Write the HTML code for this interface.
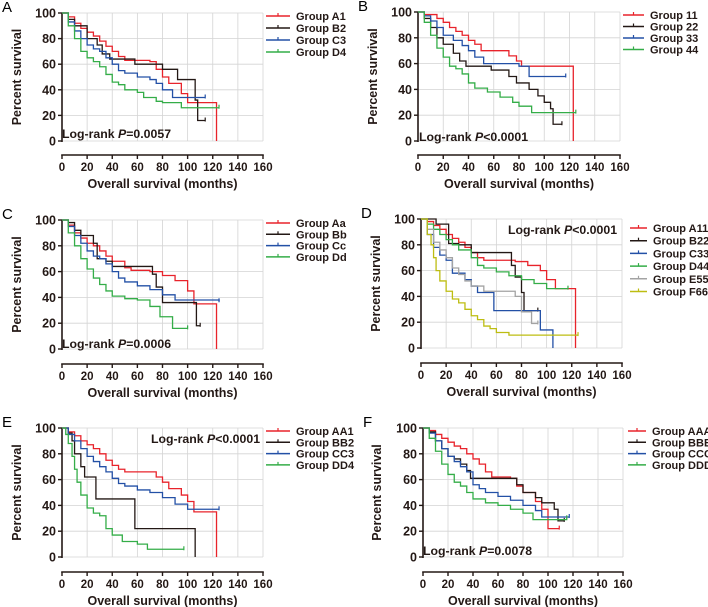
<!DOCTYPE html>
<html><head><meta charset="utf-8"><style>
html,body{margin:0;padding:0;background:#fff;}
svg{display:block;font-family:"Liberation Sans",Arial,sans-serif;}
</style></head><body>
<svg id="fig" width="708" height="607" viewBox="0 0 708 607"></svg>
<script>
// ---- data: x ticks / y ticks ----
const xTicks = [0,20,40,60,80,100,120,140,160];
const yTicks = [0,20,40,60,80,100];
// Panel A
const aName = ["Group A1","Group B2","Group C3","Group D4"];
const a1T=[0,5,10,15,20,25,30,35,40,45,50,70,75,80,85,95,100,123,123];
const a1S=[100,97,92,88,85,82,78,74,70,66,63,62,56,50,45,37,30,30,0];
const a2T=[0,5,10,20,28,32,38,58,80,92,106,108,114];
const a2S=[100,95,90,80,75,68,64,60,56,48,32,16,16];
const a3T=[0,5,10,15,20,25,30,35,40,45,50,60,70,75,80,88,114];
const a3S=[100,93,86,80,75,72,70,65,60,55,53,50,48,45,40,34,34];
const a4T=[0,5,10,15,20,25,30,35,40,45,50,60,65,75,80,95,125];
const a4S=[100,90,80,70,65,62,58,52,46,44,40,38,34,31,30,26,26];
// Panel B
const bName = ["Group 11","Group 22","Group 33","Group 44"];
const b1T=[0,5,15,20,25,30,35,40,45,50,68,72,78,82,123,123];
const b1S=[100,98,95,92,88,85,82,78,75,70,70,66,62,58,58,0];
const b2T=[0,5,10,15,20,28,33,38,58,72,78,88,95,100,105,107,114];
const b2S=[100,95,88,80,75,68,62,58,55,50,45,40,35,30,25,13,13];
const b3T=[0,5,10,15,20,28,35,40,45,52,80,88,117];
const b3S=[100,97,93,88,82,78,74,70,65,60,58,50,50];
const b4T=[0,5,10,15,20,25,30,35,40,45,55,65,75,80,90,125];
const b4S=[100,92,82,72,65,58,56,52,45,41,38,34,30,27,22,22];
// Panel C
const cName = ["Group Aa","Group Bb","Group Cc","Group Dd"];
const c1T=[0,5,10,15,20,25,30,35,40,50,55,70,80,90,100,105,123,123];
const c1S=[100,96,90,86,82,80,76,72,68,63,61,60,57,53,45,35,29,0];
const c2T=[0,5,10,15,25,28,35,40,70,72,75,80,105,107,110];
const c2S=[100,98,92,88,82,70,68,64,64,58,48,36,36,18,18];
const c3T=[0,5,10,15,20,25,30,35,40,45,50,60,70,80,90,125];
const c3S=[100,95,88,82,76,72,70,66,60,55,52,49,46,42,38,37];
const c4T=[0,5,10,15,20,25,30,35,40,50,60,70,78,88,100];
const c4S=[100,90,80,70,62,55,50,45,41,39,38,33,25,16,16];
// Panel D
const dName = ["Group A11","Group B22","Group C33","Group D44","Group E55","Group F66"];
const d1T=[0,5,10,15,20,25,30,35,40,45,50,75,85,95,100,107,123,123];
const d1S=[100,98,95,92,88,85,82,78,74,70,68,67,64,60,53,46,38,0];
const d2T=[0,12,22,30,40,70,72,75,80,82,93];
const d2S=[100,96,81,80,74,74,64,55,43,29,29];
const d3T=[0,5,10,15,20,25,35,40,45,58,95,105];
const d3S=[100,88,78,72,68,58,53,48,43,29,14,0];
const d4T=[0,5,10,15,20,25,30,40,45,50,60,70,80,90,100,117];
const d4S=[100,96,92,88,84,80,76,70,64,62,59,56,53,50,46,46];
const d5T=[0,5,10,15,20,25,30,35,40,50,60,75,80,88,93];
const d5S=[100,92,82,76,70,62,57,52,48,44,44,40,28,19,19];
const d6T=[0,5,8,10,12,15,20,25,30,35,40,45,50,55,60,70,125];
const d6S=[100,88,80,70,60,52,44,38,35,30,25,22,17,15,12,10,10];
// Panel E
const eName = ["Group AA1","Group BB2","Group CC3","Group DD4"];
const e1T=[0,5,10,15,20,25,30,35,40,45,50,70,75,80,85,95,100,105,123,123];
const e1S=[100,97,94,90,87,84,80,75,71,68,66,66,62,58,53,48,43,35,31,0];
const e2T=[0,5,8,10,15,18,27,58,106,106];
const e2S=[100,96,90,80,70,62,45,22,22,0];
const e3T=[0,5,10,15,20,25,30,35,40,45,50,60,70,80,90,100,125];
const e3S=[100,95,90,84,78,74,70,66,61,57,55,52,50,46,41,37,37];
const e4T=[0,3,5,8,10,12,15,20,25,30,35,40,48,60,68,97];
const e4S=[100,95,88,78,68,58,48,38,34,32,22,17,12,10,6,6];
// Panel F
const fName = ["Group AAA","Group BBB","Group CCC","Group DDD"];
const f1T=[0,5,10,15,20,25,30,35,40,45,50,55,70,75,80,90,95,100,109];
const f1S=[100,98,95,92,89,86,84,80,76,72,66,62,61,55,50,43,37,22,22];
const f2T=[0,5,10,15,20,25,30,35,38,70,75,80,90,95,105,108,113];
const f2S=[100,97,90,84,78,76,72,67,61,61,56,50,46,42,37,28,28];
const f3T=[0,5,10,15,20,25,30,35,40,45,50,60,70,80,90,95,117];
const f3S=[100,96,90,84,78,74,70,66,56,53,50,47,44,40,36,31,31];
const f4T=[0,5,10,15,20,25,30,35,40,50,60,70,80,88,115];
const f4S=[100,92,82,72,64,58,55,50,45,42,40,37,34,29,30];

const RED="#e8232b", BLK="#231815", BLU="#2350a6", GRN="#34ad48", GRY="#a3a3a3", YEL="#bdbd12";
const NS="http://www.w3.org/2000/svg";
const svg=document.getElementById('fig');
function mk(tag,attrs,parent){const e=document.createElementNS(NS,tag);for(const k in attrs)e.setAttribute(k,attrs[k]);(parent||svg).appendChild(e);return e;}

const panels=[
 {id:"a",letter:"A",x0:62,x1:263,y100:13,y0:141,ax:155,ytx:17,names:aName,series:[[a1T,a1S],[a2T,a2S],[a3T,a3S],[a4T,a4S]],colors:[RED,BLK,BLU,GRN],lx:266,lw:24,ly:16,ld:12,p:"=0.0057",px:62,py:138},
 {id:"b",letter:"B",x0:418,x1:620,y100:12,y0:141,ax:155,ytx:373,names:bName,series:[[b1T,b1S],[b2T,b2S],[b3T,b3S],[b4T,b4S]],colors:[RED,BLK,BLU,GRN],lx:623,lw:21,ly:15,ld:11.5,p:"<0.0001",px:419,py:141},
 {id:"c",letter:"C",x0:62,x1:263,y100:220,y0:349,ax:364,ytx:17,names:cName,series:[[c1T,c1S],[c2T,c2S],[c3T,c3S],[c4T,c4S]],colors:[RED,BLK,BLU,GRN],lx:266,lw:24,ly:223,ld:11.3,p:"=0.0006",px:62,py:348},
 {id:"d",letter:"D",x0:421,x1:622,y100:219,y0:348,ax:363,ytx:376,names:dName,series:[[d1T,d1S],[d2T,d2S],[d3T,d3S],[d4T,d4S],[d5T,d5S],[d6T,d6S]],colors:[RED,BLK,BLU,GRN,GRY,YEL],lx:630,lw:17,ly:228,ld:12.7,p:"<0.0001",px:508,py:234},
 {id:"e",letter:"E",x0:62,x1:263,y100:428,y0:557,ax:572,ytx:17,names:eName,series:[[e1T,e1S],[e2T,e2S],[e3T,e3S],[e4T,e4S]],colors:[RED,BLK,BLU,GRN],lx:266,lw:24,ly:431,ld:11.3,p:"<0.0001",px:151,py:443},
 {id:"f",letter:"F",x0:423,x1:623,y100:428,y0:557,ax:572,ytx:377,names:fName,series:[[f1T,f1S],[f2T,f2S],[f3T,f3S],[f4T,f4S]],colors:[RED,BLK,BLU,GRN],lx:628,lw:18,ly:431,ld:11.3,p:"=0.0078",px:423,py:555}
];

panels.forEach(P=>{
 const g=mk('g',{});
 
 
 const X=t=>P.x0+(P.x1-P.x0)*t/160;
 const Y=s=>P.y0-(P.y0-P.y100)*s/100;
 const L=mk('text',{x:P.x0-60,y:P.y100-1,'font-size':15},g);
 L.textContent=P.letter;
 
 
 xTicks.forEach(t=>{if(t>0){const l=mk('line',{x1:X(t),x2:X(t),y1:Y(100),y2:Y(0),stroke:'#d4d4d4','stroke-width':0.8},g);
  
  }});
 yTicks.forEach(s=>{const l=mk('line',{x1:X(0),x2:X(160),y1:Y(s),y2:Y(s),stroke:'#d4d4d4','stroke-width':0.8},g);
  
  });
 const ya=mk('line',{x1:X(0),x2:X(0),y1:Y(100),y2:Y(0)+1,stroke:'#231815','stroke-width':1.6},g);
 
 
 const xa=mk('line',{x1:X(0)-0.8,x2:X(160)+0.8,y1:P.ax,y2:P.ax,stroke:'#231815','stroke-width':1.6},g);
 
 
 yTicks.forEach(s=>{mk('line',{x1:X(0)-4,x2:X(0),y1:Y(s),y2:Y(s),stroke:'#231815','stroke-width':1.4},g);
  const t=mk('text',{x:X(0)-6,y:Y(s)+4.5,'font-size':12.5,'font-weight':'bold','text-anchor':'end',fill:'#231815'},g);
  t.textContent=s;
  
  });
 xTicks.forEach(v=>{mk('line',{x1:X(v),x2:X(v),y1:P.ax,y2:P.ax+4,stroke:'#231815','stroke-width':1.4},g);
  const t=mk('text',{x:X(v),y:P.ax+16,'font-size':11.5,'font-weight':'bold','text-anchor':'middle',fill:'#231815'},g);
  t.textContent=v;
  
  });
 const xt=mk('text',{x:X(80),y:P.ax+33,'font-size':12.5,'font-weight':'bold','text-anchor':'middle',fill:'#231815'},g);
 xt.textContent='Overall survival (months)';
 
 
 const cy=(P.y0+P.y100)/2;
 const yt=mk('text',{x:P.ytx,y:cy,'font-size':12.5,'font-weight':'bold','text-anchor':'middle',fill:'#231815',transform:`rotate(-90 ${P.ytx} ${cy})`,dy:4},g);
 yt.textContent='Percent survival';
 
 
 P.series.forEach((sr,i)=>{
  const T=sr[0],S=sr[1];
  let d=`M${X(T[0])},${Y(S[0])}`;
  for(let k=1;k<T.length;k++){d+=` H${X(T[k])} V${Y(S[k])}`;}
  const p=mk('path',{d:d,fill:'none',stroke:P.colors[i],'stroke-width':1.3},g);
  
  
  const n=T.length-1;
  if(S[n]>0){const c=mk('line',{x1:X(T[n]),x2:X(T[n]),y1:Y(S[n])-3,y2:Y(S[n])+1,stroke:P.colors[i],'stroke-width':1.2},g);
   
   }
  const ly=P.ly+i*P.ld;
  const le=mk('g',{},g);
  
  
  mk('line',{x1:P.lx,x2:P.lx+P.lw,y1:ly,y2:ly,stroke:P.colors[i],'stroke-width':1.5},le);
  mk('line',{x1:P.lx+P.lw/2,x2:P.lx+P.lw/2,y1:ly-3,y2:ly,stroke:P.colors[i],'stroke-width':1.2},le);
  const lt=mk('text',{x:P.lx+P.lw+6,y:ly+4,'font-size':11,'font-weight':'bold',fill:'#231815'},le);
  lt.textContent=P.names[i];
 });
 const pt=mk('text',{x:P.px,y:P.py,'font-size':12.3,'font-weight':'bold',fill:'#231815'},g);
 
 
 pt.innerHTML='Log-rank <tspan font-style="italic">P</tspan>'+P.p;
});
</script>
</body></html>
